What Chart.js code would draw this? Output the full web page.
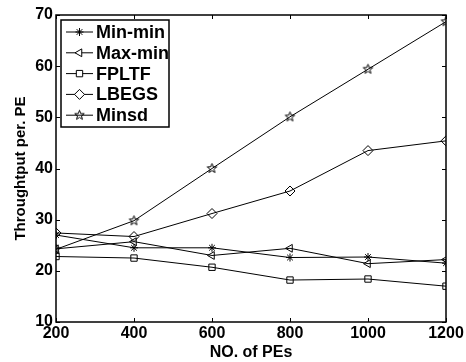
<!DOCTYPE html>
<html>
<head>
<meta charset="utf-8">
<script src="https://cdn.jsdelivr.net/npm/chart.js@4/dist/chart.umd.min.js"></script>
<style>
  html, body { margin: 0; padding: 0; background: #fff; }
  #wrap { width: 466px; height: 362px; }
</style>
</head>
<body>
<div id="wrap"><canvas id="chart" width="466" height="362"></canvas></div>
<script>
const peCounts = [200, 400, 600, 800, 1000, 1200];
const minMin = [27.0, 24.5, 24.5, 22.6, 22.7, 21.5];
const maxMin = [24.3, 25.7, 23.0, 24.4, 21.4, 22.2];
const fpltf = [22.8, 22.5, 20.7, 18.2, 18.4, 17.0];
const lbegs = [27.4, 26.7, 31.2, 35.6, 43.5, 45.4];
const minsd = [24.2, 29.8, 40.0, 50.1, 59.4, 68.7];
const seriesNames = ["Min-min", "Max-min", "FPLTF", "LBEGS", "Minsd"];

const FONT = "'Liberation Sans', Arial, sans-serif";

// matlab style pentagram marker
function makeStar(r) {
  const c = document.createElement("canvas");
  const s = Math.ceil(r * 2 + 3);
  c.width = s; c.height = s;
  const g = c.getContext("2d");
  const cx = s / 2, cy = s / 2;
  g.beginPath();
  for (let i = 0; i < 10; i++) {
    const rr = i % 2 === 0 ? r : r * 0.42;
    const a = -Math.PI / 2 + i * Math.PI / 5;
    const px = cx + rr * Math.cos(a), py = cy + rr * Math.sin(a);
    if (i === 0) g.moveTo(px, py); else g.lineTo(px, py);
  }
  g.closePath();
  g.strokeStyle = "#000";
  g.lineWidth = 1;
  g.stroke();
  return c;
}
const starImg = makeStar(5);

function toPoints(arr) {
  return arr.map((v, i) => ({ x: peCounts[i], y: v }));
}

const markers = [
  { style: "star", radius: 4, rotation: 0 },
  { style: "triangle", radius: 4.5, rotation: -90 },
  { style: "rect", radius: 4.5, rotation: 0 },
  { style: "rectRot", radius: 5, rotation: 0 },
  { style: starImg, radius: 5, rotation: 0 },
];
const values = [minMin, maxMin, fpltf, lbegs, minsd];

const datasets = values.map((arr, i) => ({
  label: seriesNames[i],
  data: toPoints(arr),
  borderColor: "#000",
  borderWidth: 1,
  pointStyle: markers[i].style,
  pointRadius: markers[i].radius,
  pointRotation: markers[i].rotation,
  pointBorderColor: "#000",
  pointBorderWidth: 1,
  pointBackgroundColor: "rgba(0,0,0,0)",
  fill: false,
  tension: 0,
}));

// box, inward ticks and legend like the matlab figure
const matlabFrame = {
  id: "matlabFrame",
  afterDraw(chart) {
    const ctx = chart.ctx;
    const a = chart.chartArea;
    const xs = chart.scales.x, ys = chart.scales.y;
    ctx.save();
    ctx.strokeStyle = "#000";
    ctx.lineWidth = 1.5;
    ctx.strokeRect(a.left, a.top, a.right - a.left, a.bottom - a.top);
    ctx.lineWidth = 1;
    ctx.beginPath();
    const tl = 4;
    peCounts.forEach(v => {
      const px = Math.round(xs.getPixelForValue(v)) + 0.5;
      ctx.moveTo(px, a.bottom); ctx.lineTo(px, a.bottom - tl);
      ctx.moveTo(px, a.top); ctx.lineTo(px, a.top + tl);
    });
    for (let v = 10; v <= 70; v += 10) {
      const py = Math.round(ys.getPixelForValue(v)) + 0.5;
      ctx.moveTo(a.left, py); ctx.lineTo(a.left + tl, py);
      ctx.moveTo(a.right, py); ctx.lineTo(a.right - tl, py);
    }
    ctx.stroke();

    // legend
    const lx = a.left + 5, ly = a.top + 5, lw = 108, lh = 107;
    ctx.fillStyle = "#fff";
    ctx.fillRect(lx, ly, lw, lh);
    ctx.lineWidth = 1.5;
    ctx.strokeRect(lx, ly, lw, lh);
    ctx.font = "bold 18px " + FONT;
    ctx.textBaseline = "middle";
    ctx.textAlign = "left";
    seriesNames.forEach((name, i) => {
      const y = ly + 12 + i * 20.8;
      ctx.lineWidth = 1;
      ctx.beginPath();
      ctx.moveTo(lx + 5, y); ctx.lineTo(lx + 32, y);
      ctx.stroke();
      const m = markers[i];
      ctx.fillStyle = "#fff";
      Chart.helpers.drawPoint(ctx, {
        pointStyle: m.style,
        rotation: m.rotation,
        radius: m.radius,
        borderWidth: 1,
      }, lx + 18.5, y);
      ctx.fillStyle = "#000";
      ctx.fillText(name, lx + 35, y + 1);
    });
    ctx.restore();
  },
};

new Chart(document.getElementById("chart").getContext("2d"), {
  type: "line",
  data: { datasets: datasets },
  plugins: [matlabFrame],
  options: {
    responsive: false,
    animation: false,
    layout: { padding: { top: 15, right: 20, left: 0, bottom: 0 } },
    plugins: {
      legend: { display: false },
      tooltip: { enabled: false },
    },
    scales: {
      x: {
        type: "linear",
        min: 200,
        max: 1200,
        afterFit(scale) { scale.height = 40; },
        grid: { display: false, drawTicks: false },
        border: { display: false },
        ticks: {
          stepSize: 200,
          padding: 2,
          color: "#000",
          maxRotation: 0,
          callback: v => String(v),
          font: { family: FONT, size: 16, weight: "bold" },
        },
        title: {
          display: true,
          text: "NO. of PEs",
          color: "#000",
          padding: { top: 0, bottom: 0 },
          font: { family: FONT, size: 16, weight: "bold" },
        },
      },
      y: {
        min: 10,
        max: 70,
        afterFit(scale) { scale.width = 56; },
        grid: { display: false, drawTicks: false },
        border: { display: false },
        ticks: {
          stepSize: 10,
          padding: 3,
          color: "#000",
          font: { family: FONT, size: 16, weight: "bold" },
        },
        title: {
          display: true,
          text: "Throughtput per. PE",
          color: "#000",
          padding: { top: 12, bottom: 0 },
          font: { family: FONT, size: 15, weight: "bold" },
        },
      },
    },
  },
});
</script>
</body>
</html>
